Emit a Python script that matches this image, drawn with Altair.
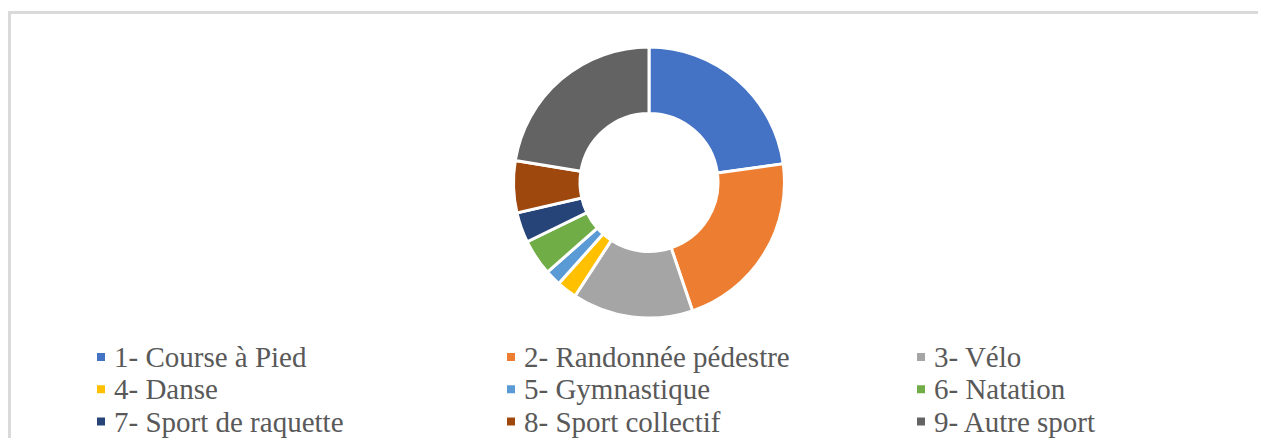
import altair as alt
import pandas as pd

categories = [
    "1- Course à Pied", "2- Randonnée pédestre", "3- Vélo",
    "4- Danse", "5- Gymnastique", "6- Natation",
    "7- Sport de raquette", "8- Sport collectif", "9- Autre sport",
]
shares = [22.8, 22.0, 14.4, 2.4, 1.9, 4.3, 3.6, 6.2, 22.4]
colors = ["#4472C4", "#ED7D31", "#A5A5A5", "#FFC000", "#5B9BD5",
          "#70AD47", "#264478", "#9E480E", "#636363"]

df = pd.DataFrame({"cat": categories, "share": shares, "idx": list(range(len(categories)))})
df["col"] = df["idx"] % 3
df["row"] = df["idx"] // 3

color_scale = alt.Scale(domain=categories, range=colors)

arcs = alt.Chart(df).mark_arc(
    innerRadius=69, outerRadius=135.5, stroke="white", strokeWidth=3
).encode(
    theta=alt.Theta("share:Q", stack=True),
    order=alt.Order("idx:Q"),
    color=alt.Color("cat:N", scale=color_scale, legend=None),
    x=alt.value(641),
    y=alt.value(174.5),
)

lx = alt.X("col:Q", scale=alt.Scale(domain=[0, 2], range=[93, 913]), axis=None)
ly = alt.Y("row:Q", scale=alt.Scale(domain=[0, 2], range=[349, 413.5]), axis=None)

markers = alt.Chart(df).mark_square(size=64, opacity=1, strokeWidth=0).encode(
    x=lx, y=ly,
    color=alt.Color("cat:N", scale=color_scale, legend=None),
)
labels = alt.Chart(df).mark_text(
    align="left", baseline="middle", dx=13, dy=1,
    font="Liberation Serif", fontSize=29, color="#595959",
).encode(x=lx, y=ly, text="cat:N")

top_rule = alt.Chart(df).mark_rule(color="#D9D9D9", strokeWidth=2).encode(
    x=alt.value(0.5), x2=alt.value(1250), y=alt.value(4.5)
)
left_rule = alt.Chart(df).mark_rule(color="#D9D9D9", strokeWidth=2).encode(
    x=alt.value(1.5), y=alt.value(3.5), y2=alt.value(430)
)

chart = alt.layer(top_rule, left_rule, arcs, markers, labels).properties(
    width=1250, height=430, padding=0,
    autosize=alt.AutoSizeParams(type="none"),
).configure_view(stroke=None)

chart.save("out.html", embed_options={"renderer": "svg", "actions": False})
